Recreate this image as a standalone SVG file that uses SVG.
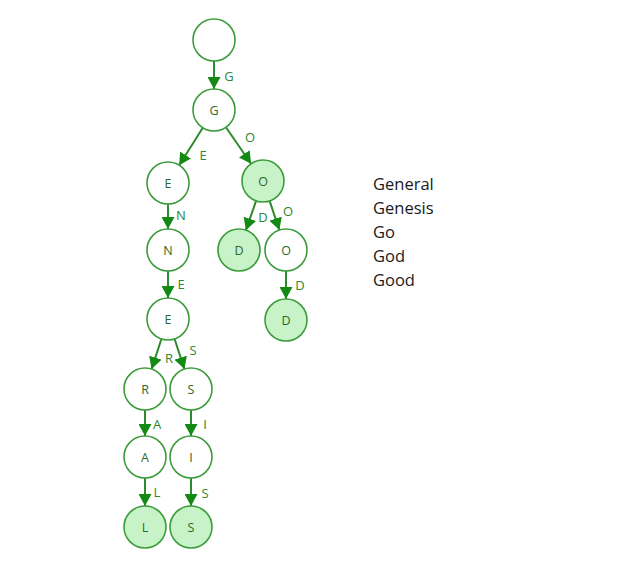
<svg xmlns="http://www.w3.org/2000/svg" width="637" height="563" viewBox="0 0 637 563">
<defs>
<marker id="arr" markerUnits="userSpaceOnUse" markerWidth="13" markerHeight="13" refX="12" refY="6.5" orient="auto">
<path d="M0,0 L12,6.5 L0,13 z" fill="#138a13"/>
</marker>
<style>
.n{fill:#ffffff;stroke:#3c9c3c;stroke-width:1.6}
.t{fill:#c8f2c8;stroke:#3c9c3c;stroke-width:1.6}
.nl{font-family:"Open Sans","DejaVu Sans",sans-serif;font-size:12.5px;fill:#2a6a2a;text-anchor:middle;dominant-baseline:central}
.el{font-family:"Open Sans","DejaVu Sans",sans-serif;font-size:13px;fill:#2e862e;text-anchor:middle;dominant-baseline:central}
.c line{stroke:#2e8a2e;stroke-width:2;marker-end:url(#arr)}
.w{font-family:"Open Sans","Noto Sans",sans-serif;font-size:16.5px;fill:#1a1a1a}
</style>
</defs>
<rect width="637" height="563" fill="#ffffff"/>
<g id="connectors" class="c">
<line x1="214" y1="61" x2="214" y2="89"/>
<line x1="202.8" y1="127.8" x2="179.2" y2="165.2"/>
<line x1="225.9" y1="127.3" x2="251.1" y2="163.7"/>
<line x1="168" y1="204" x2="168" y2="229"/>
<line x1="256.1" y1="200.8" x2="245.9" y2="230.2"/>
<line x1="269.6" y1="200.9" x2="279.4" y2="230.1"/>
<line x1="168" y1="271" x2="168" y2="298"/>
<line x1="286" y1="271" x2="286" y2="299"/>
<line x1="161.4" y1="339" x2="151.6" y2="369.1"/>
<line x1="174.6" y1="339" x2="184.4" y2="369.1"/>
<line x1="145" y1="410" x2="145" y2="436"/>
<line x1="191" y1="410" x2="191" y2="436"/>
<line x1="145" y1="478" x2="145" y2="506"/>
<line x1="191" y1="478" x2="191" y2="506"/>
</g>
<g id="edge-labels">
<text class="el" x="229" y="76">G</text>
<text class="el" x="203" y="155">E</text>
<text class="el" x="250" y="137">O</text>
<text class="el" x="181" y="215">N</text>
<text class="el" x="263" y="217">D</text>
<text class="el" x="288" y="211">O</text>
<text class="el" x="181" y="284">E</text>
<text class="el" x="300" y="285">D</text>
<text class="el" x="169" y="358">R</text>
<text class="el" x="193" y="350">S</text>
<text class="el" x="157" y="424">A</text>
<text class="el" x="205" y="424">I</text>
<text class="el" x="157" y="492">L</text>
<text class="el" x="205" y="493">S</text>
</g>
<g id="root"><circle class="n" cx="214" cy="40" r="21"/></g>
<g id="n-G"><circle class="n" cx="214" cy="110" r="21"/><text class="nl" x="214" y="110">G</text></g>
<g id="n-GE"><circle class="n" cx="168" cy="183" r="21"/><text class="nl" x="168" y="183">E</text></g>
<g id="n-GO"><circle class="t" cx="263" cy="181" r="21"/><text class="nl" x="263" y="181">O</text></g>
<g id="n-GEN"><circle class="n" cx="168" cy="250" r="21"/><text class="nl" x="168" y="250">N</text></g>
<g id="n-GOD"><circle class="t" cx="239" cy="250" r="21"/><text class="nl" x="239" y="250">D</text></g>
<g id="n-GOO"><circle class="n" cx="286" cy="250" r="21"/><text class="nl" x="286" y="250">O</text></g>
<g id="n-GENE"><circle class="n" cx="168" cy="319" r="21"/><text class="nl" x="168" y="319">E</text></g>
<g id="n-GOOD"><circle class="t" cx="286" cy="320" r="21"/><text class="nl" x="286" y="320">D</text></g>
<g id="n-GENER"><circle class="n" cx="145" cy="389" r="21"/><text class="nl" x="145" y="389">R</text></g>
<g id="n-GENES"><circle class="n" cx="191" cy="389" r="21"/><text class="nl" x="191" y="389">S</text></g>
<g id="n-GENERA"><circle class="n" cx="145" cy="457" r="21"/><text class="nl" x="145" y="457">A</text></g>
<g id="n-GENESI"><circle class="n" cx="191" cy="457" r="21"/><text class="nl" x="191" y="457">I</text></g>
<g id="n-GENERAL"><circle class="t" cx="145" cy="527" r="21"/><text class="nl" x="145" y="527">L</text></g>
<g id="n-GENESIS"><circle class="t" cx="191" cy="527" r="21"/><text class="nl" x="191" y="527">S</text></g>
<g id="words">
<text class="w" x="373" y="190">General</text>
<text class="w" x="373" y="214">Genesis</text>
<text class="w" x="373" y="238">Go</text>
<text class="w" x="373" y="262">God</text>
<text class="w" x="373" y="286">Good</text>
</g>
</svg>
